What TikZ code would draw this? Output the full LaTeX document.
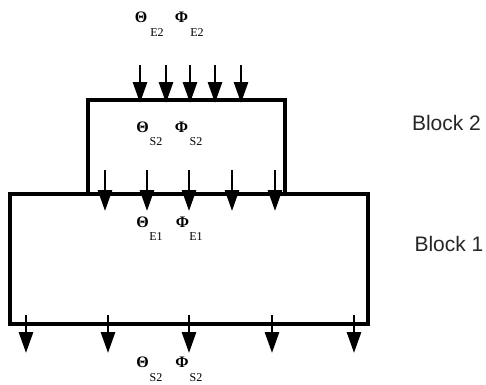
\documentclass[tikz,border=0pt]{standalone}
\usepackage{fontspec}
\setmainfont{Liberation Serif}
\newfontfamily\lsans{Liberation Sans}
\usetikzlibrary{arrows.meta}
\begin{document}
\begin{tikzpicture}[x=1pt,y=-1pt,
  box/.style={draw,line width=3.2pt,inner sep=0pt},
  flow/.style={line width=2.8pt,-{Triangle[length=21pt,width=14pt]}},
  gr/.style={font=\fontsize{16}{16}\selectfont\bfseries,inner sep=0pt},
  sb/.style={font=\fontsize{12}{12}\selectfont,inner sep=0pt},
  blk/.style={font=\lsans\fontsize{21}{21}\selectfont,text=black!85,inner sep=0pt}]
\useasboundingbox (0,0) rectangle (486,384);
% blocks
\node[box,minimum width=358pt,minimum height=130pt] (b1) at (189,259) {};
\draw[line width=3.2pt] (88,194) |- (285,100) -- (285,194);
\node[box,draw=none,minimum width=197pt,minimum height=94pt] (b2) at (186.5,147) {};
% top arrows
\foreach \i/\x in {1/140,2/166,3/190,4/215,5/241}{
  \coordinate (t\i) at (\x,65); \coordinate (u\i) at (\x,103);
  \draw[flow] (t\i) -- (u\i);}
% middle arrows
\foreach \i/\x in {1/105,2/147,3/189,4/232,5/275}{
  \coordinate (m\i) at (\x,170); \coordinate (n\i) at (\x,211);
  \draw[flow] (m\i) -- (n\i);}
% bottom arrows
\foreach \i/\x in {1/26,2/108,3/189,4/272,5/354}{
  \coordinate (p\i) at (\x,315); \coordinate (q\i) at (\x,353);
  \draw[flow] (p\i) -- (q\i);}
% labels
\node[gr] (th1) at (141,17.5) {Θ};
\node[sb] (th1s) at (157,32.5) {E2};
\node[gr] (ph1) at (181.5,17.5) {Φ};
\node[sb] (ph1s) at (197,32.5) {E2};
\node[gr] (th2) at (142.5,127.5) {Θ};
\node[sb] (th2s) at (156,142) {S2};
\node[gr] (ph2) at (181.5,127.5) {Φ};
\node[sb] (ph2s) at (196,142) {S2};
\node[gr] (th3) at (142.5,222) {Θ};
\node[sb] (th3s) at (156,236.5) {E1};
\node[gr] (ph3) at (182.5,222) {Φ};
\node[sb] (ph3s) at (196,236.5) {E1};
\node[gr] (th4) at (142.5,362) {Θ};
\node[sb] (th4s) at (156,378) {S2};
\node[gr] (ph4) at (182,362) {Φ};
\node[sb] (ph4s) at (196,378) {S2};
\node[blk] (l2) at (446.5,122.5) {Block 2};
\node[blk] (l1) at (449,243.5) {Block 1};
\end{tikzpicture}
\end{document}
